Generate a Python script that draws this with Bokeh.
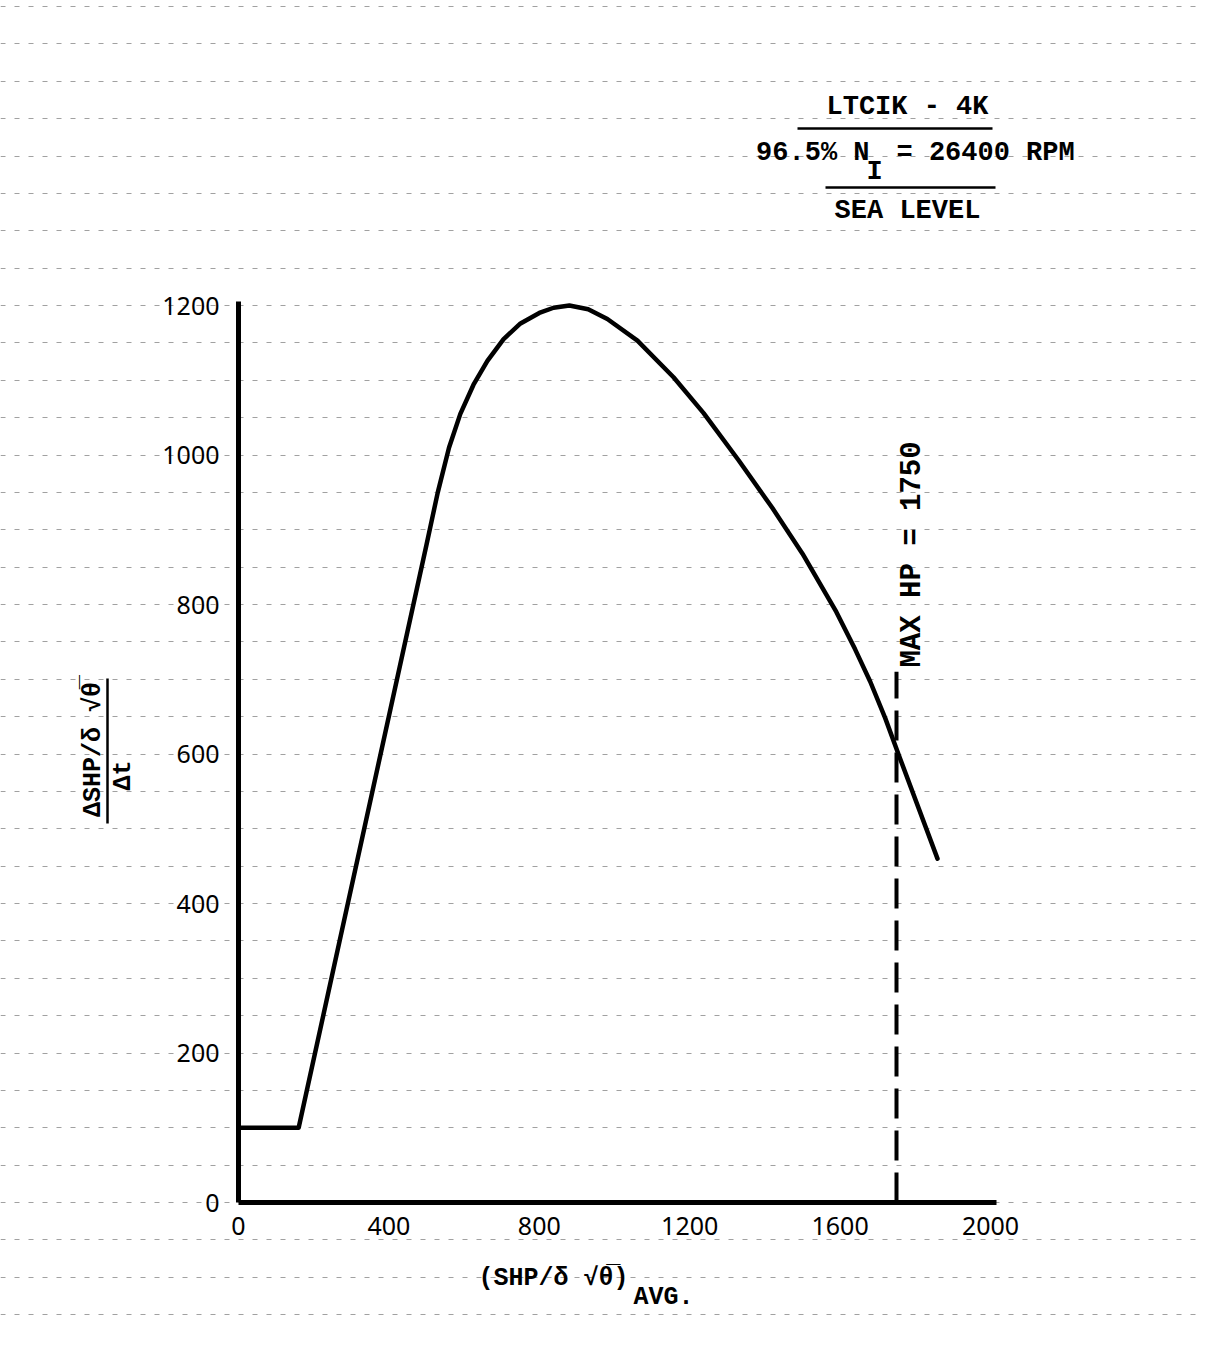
import math
from bokeh.plotting import figure
from bokeh.models import Range1d, LinearAxis, FixedTicker, Label
from bokeh.embed import file_html
from bokeh.resources import INLINE

# ---- data ----
shp_avg = [0, 160, 500, 530, 560, 590, 625, 662, 705, 750, 800, 838, 880, 930, 981,
           1061, 1157, 1237, 1330, 1420, 1500, 1590, 1640, 1680, 1720, 1755, 1859]
dshp_dt = [100, 100, 880, 950, 1010, 1055, 1094, 1126, 1155, 1176, 1190, 1197, 1200, 1195, 1182,
           1153, 1104, 1056, 993, 929, 868, 790, 740, 697, 648, 600, 460]
max_hp = [1750]
max_hp_top = [710]
x_ticks = [0, 400, 800, 1200, 1600, 2000]
y_ticks = [0, 200, 400, 600, 800, 1000, 1200]
paper_lines = list(range(-150, 1650, 50))

W, H = 1197, 1336
# page-pixel <-> data mapping (layout only)
X0, XS = 238.0, 0.376
Y0, YS = 1202.0, 0.7475
def dx(px):
    return (px - X0) / XS
def dy(py):
    return (Y0 - py) / YS

p = figure(width=W, height=H, output_backend="svg", toolbar_location=None,
           x_range=Range1d(dx(0), dx(W)), y_range=Range1d(dy(H), dy(0)),
           x_axis_location=None, y_axis_location=None, min_border=0,
           outline_line_color=None, background_fill_color="white")

p.xgrid.visible = False
p.ygrid.ticker = FixedTicker(ticks=paper_lines)
p.ygrid.grid_line_color = "#8a8a8a"
p.ygrid.grid_line_dash = "5 9"
p.ygrid.grid_line_width = 1.2
p.ygrid.grid_line_alpha = 0.8

TICK_FONT = "Noto Sans"
MONO = "Liberation Mono"

xa = LinearAxis(ticker=FixedTicker(ticks=x_ticks), fixed_location=0, bounds=(0, 2015))
xa.axis_line_width = 5
xa.major_tick_line_color = None
xa.minor_tick_line_color = None
xa.major_label_text_font = TICK_FONT
xa.major_label_text_font_size = "25px"
xa.major_label_text_color = "black"
xa.major_label_standoff = 8
p.add_layout(xa, "below")

ya = LinearAxis(ticker=FixedTicker(ticks=y_ticks), fixed_location=0, bounds=(0, 1205))
ya.axis_line_width = 5
ya.major_tick_line_color = None
ya.minor_tick_line_color = None
ya.major_label_text_font = TICK_FONT
ya.major_label_text_font_size = "25px"
ya.major_label_text_color = "black"
ya.major_label_standoff = 13
p.add_layout(ya, "left")

# curve
p.line(shp_avg, dshp_dt, line_width=4.5, line_color="black", line_join="round", line_cap="round")
# max HP dashed line
p.segment(x0=max_hp, y0=[0], x1=max_hp, y1=max_hp_top, line_width=4, line_color="black",
          line_dash="30 12")

def lab(text, px, py, size="27px", angle=0.0, align="center", font=MONO, style="bold"):
    p.add_layout(Label(x=dx(px), y=dy(py), text=text, text_font=font, text_font_size=size,
                       text_align=align, text_baseline="middle", angle=angle,
                       text_color="black", text_font_style=style))

# title block
lab("LTCIK - 4K", 907, 106)
lab("96.5% N", 869, 152, align="right")
lab("I", 874, 171)
lab("= 26400 RPM", 896, 152, align="left")
lab("SEA LEVEL", 907, 210)
p.segment(x0=[dx(797)], y0=[dy(128)], x1=[dx(992)], y1=[dy(128)], line_width=2.5, line_color="black")
p.segment(x0=[dx(825)], y0=[dy(187)], x1=[dx(995)], y1=[dy(187)], line_width=2.5, line_color="black")

# max hp label
lab("MAX HP = 1750", 912, 554, angle=math.pi / 2, size="29px")

# y-axis label (fraction)
lab("\u0394SHP/\u03b4 \u221a\u03b8\u0305", 93, 749, size="25px", angle=math.pi / 2)
lab("\u0394t", 123, 775, size="25px", angle=math.pi / 2)
p.segment(x0=[dx(107)], y0=[dy(678)], x1=[dx(107)], y1=[dy(823)], line_width=2.5, line_color="black")

# x-axis label
lab("(SHP/\u03b4 \u221a\u03b8\u0305)", 553, 1278, size="25px")
lab("AVG.", 663, 1297, size="25px")

open("out.html", "w").write(file_html(p, INLINE))
